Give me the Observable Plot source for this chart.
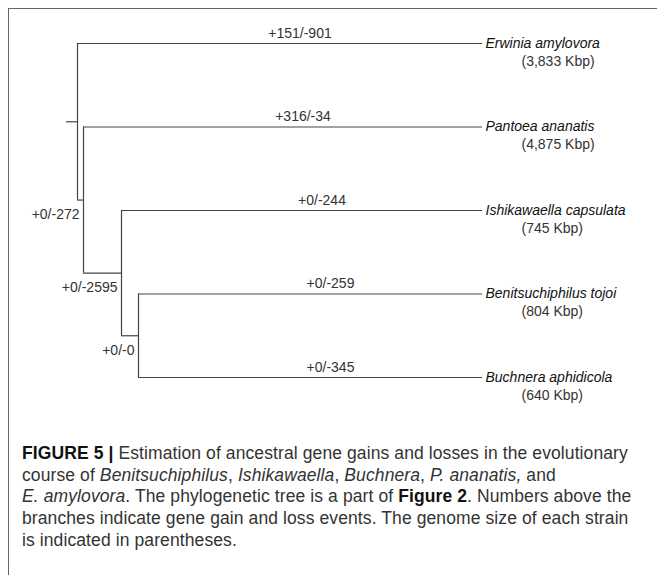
<!DOCTYPE html>
<html>
<head>
<meta charset="utf-8">
<script src="https://cdn.jsdelivr.net/npm/d3@7"></script>
<script src="https://cdn.jsdelivr.net/npm/@observablehq/plot@0.6"></script>
<style>
  html, body { margin: 0; padding: 0; background: #fff; overflow: hidden; }
  #wrap { position: relative; width: 657px; height: 575px; }
  #frame { position: absolute; left: 8px; top: 8px; width: 720px; height: 640px;
           border-top: 1.5px solid #666; border-left: 1.5px solid #666; box-sizing: border-box; }
  #chart { position: absolute; left: 0; top: 0; }
  #caption { position: absolute; left: 22px; top: 443px; width: 630px;
             font-family: "Liberation Sans", Arial, sans-serif; font-size: 17.5px; line-height: 21.7px;
             letter-spacing: 0.1px; color: #333; white-space: nowrap; }
  #caption b { color: #111; }
</style>
</head>
<body>
<div id="wrap">
  <div id="frame"></div>
  <div id="chart"></div>
  <div id="caption">
    <b>FIGURE 5 |</b> Estimation of ancestral gene gains and losses in the evolutionary<br>
    course of <i>Benitsuchiphilus</i>, <i>Ishikawaella</i>, <i>Buchnera</i>, <i>P. ananatis,</i> and<br>
    <i>E. amylovora</i>. The phylogenetic tree is a part of <b>Figure 2</b>. Numbers above the<br>
    branches indicate gene gain and loss events. The genome size of each strain<br>
    is indicated in parentheses.
  </div>
</div>
<script>
// ---- Data ----
const leafNames = ["Erwinia amylovora", "Pantoea ananatis", "Ishikawaella capsulata", "Benitsuchiphilus tojoi", "Buchnera aphidicola"];
const genomeSizes = ["(3,833 Kbp)", "(4,875 Kbp)", "(745 Kbp)", "(804 Kbp)", "(640 Kbp)"];
const leafEvents = ["+151/-901", "+316/-34", "+0/-244", "+0/-259", "+0/-345"];
const leafParents = ["root", "n1", "n2", "n3", "n3"];
const leafDepth = 40.5;

const nodeIds = ["root", "n1", "n2", "n3"];
const nodeParents = [null, "root", "n1", "n2"];
const nodeDepths = [0, 0.6, 4.4, 6.1];
const nodeEvents = ["", "+0/-272", "+0/-2595", "+0/-0"];
const rootStub = -1.1;

// ---- Build tree ----
const nodes = new Map();
nodeIds.forEach((id, i) => nodes.set(id, {id, depth: nodeDepths[i], parent: nodeParents[i], event: nodeEvents[i], children: []}));
const leaves = leafNames.map((name, i) => ({id: name, name, depth: leafDepth, y: i, parent: leafParents[i], event: leafEvents[i], size: genomeSizes[i]}));
leaves.forEach(l => nodes.get(l.parent).children.push(l));
nodeIds.forEach(id => { const n = nodes.get(id); if (n.parent) nodes.get(n.parent).children.push(n); });
function yOf(n) { if (n.y === undefined) n.y = d3.mean(n.children, yOf); return n.y; }
const internal = nodeIds.map(id => nodes.get(id));
internal.forEach(yOf);
const root = nodes.get("root");

const hSegs = [...leaves, ...internal.filter(n => n.parent)].map(n => ({x1: nodes.get(n.parent).depth, x2: n.depth, y: n.y}));
hSegs.push({x1: rootStub, x2: root.depth, y: root.y});
const vSegs = internal.map(n => ({x: n.depth, y1: d3.min(n.children, c => c.y), y2: d3.max(n.children, c => c.y)}));
const innerLabels = internal.filter(n => n.event);

const stroke = "#444";
const chart = Plot.plot({
  width: 657,
  height: 430,
  marginTop: 0, marginBottom: 0, marginLeft: 0, marginRight: 0,
  style: {fontFamily: "'Liberation Sans', Arial, sans-serif", background: "transparent"},
  x: {domain: [rootStub, leafDepth], range: [66, 482], axis: null},
  y: {domain: [0, 4], range: [43, 377], axis: null},
  marks: [
    Plot.ruleY(hSegs, {x1: "x1", x2: "x2", y: "y", stroke, strokeWidth: 1.2}),
    Plot.ruleX(vSegs, {x: "x", y1: "y1", y2: "y2", stroke, strokeWidth: 1.2}),
    Plot.text(leaves, {x: d => (nodes.get(d.parent).depth + d.depth) / 2, y: "y", text: "event",
      dx: 20, dy: -6, lineAnchor: "bottom", fontSize: 14, fill: "#333"}),
    Plot.text(innerLabels, {x: "depth", y: "y", text: "event", textAnchor: "end",
      dx: -4, dy: 19, lineAnchor: "bottom", fontSize: 14, fill: "#333"}),
    Plot.text(leaves, {x: "depth", y: "y", text: "name", textAnchor: "start", dx: 3,
      lineAnchor: "middle", fontSize: 14, fontStyle: "italic", fill: "#111"}),
    Plot.text(leaves, {x: "depth", y: "y", text: "size", textAnchor: "start", dx: 39, dy: 22,
      lineAnchor: "bottom", fontSize: 14, fill: "#333"})
  ]
});
document.getElementById("chart").appendChild(chart);
</script>
</body>
</html>
